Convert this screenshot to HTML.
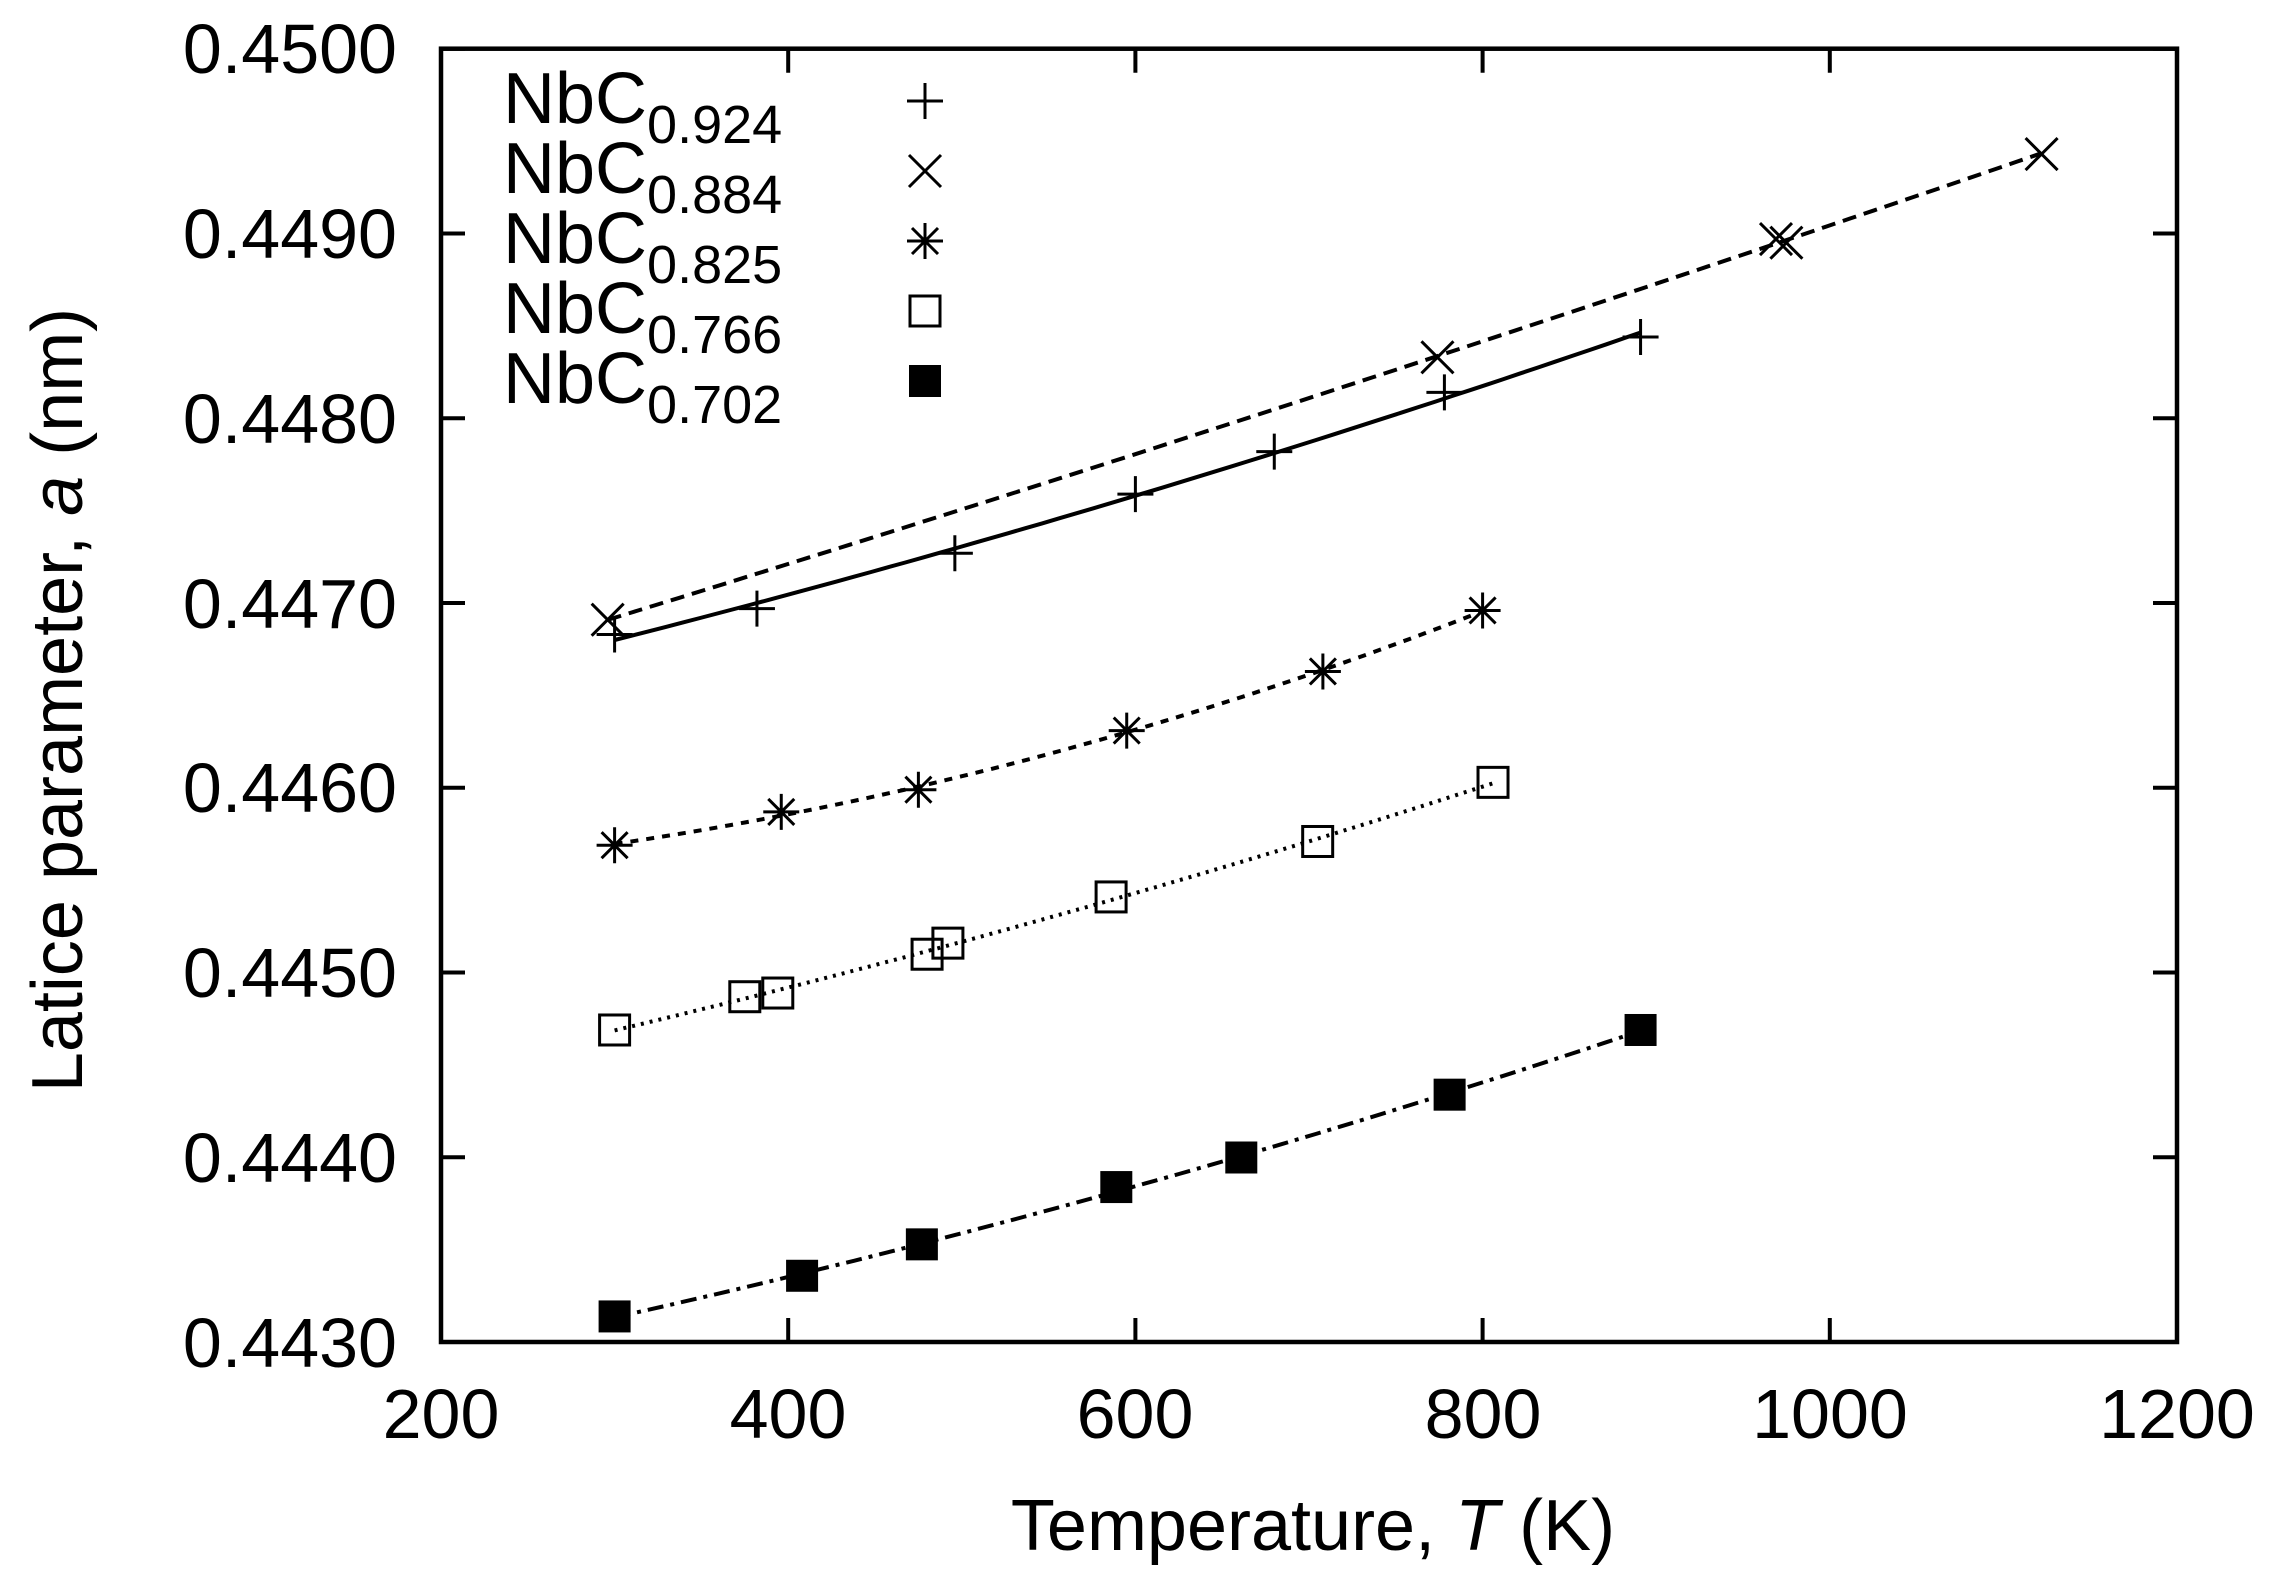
<!DOCTYPE html>
<html><head><meta charset="utf-8"><style>
html,body{margin:0;padding:0;background:#fff}
svg{display:block}
text{font-family:"Liberation Sans",sans-serif;fill:#000}
</style></head><body>
<svg id="s" width="2277" height="1577" viewBox="0 0 2277 1577" xmlns="http://www.w3.org/2000/svg">
<rect x="0" y="0" width="2277" height="1577" fill="#fff"/>
<g id="ticks" stroke="#000" stroke-width="4" fill="none"></g>
<rect x="441" y="48.7" width="1736" height="1293.3" fill="none" stroke="#000" stroke-width="4.5"/>
<g font-size="70" text-anchor="end">
<text x="397" y="73">0.4500</text>
<text x="397" y="258">0.4490</text>
<text x="397" y="443">0.4480</text>
<text x="397" y="628">0.4470</text>
<text x="397" y="812">0.4460</text>
<text x="397" y="997">0.4450</text>
<text x="397" y="1182">0.4440</text>
<text x="397" y="1367">0.4430</text>
</g>
<g font-size="70" text-anchor="middle">
<text x="441" y="1438">200</text>
<text x="788" y="1438">400</text>
<text x="1135" y="1438">600</text>
<text x="1483" y="1438">800</text>
<text x="1830" y="1438">1000</text>
<text x="2177" y="1438">1200</text>
</g>
<text x="1313" y="1550" font-size="72" text-anchor="middle">Temperature, <tspan font-style="italic">T</tspan> (K)</text>
<text transform="translate(82,700) rotate(-90)" font-size="72" text-anchor="middle">Latice parameter, <tspan font-style="italic">a</tspan> (nm)</text>
<g font-size="72">
<text x="503" y="123">NbC<tspan font-size="54" dy="20">0.924</tspan></text>
<text x="503" y="193">NbC<tspan font-size="54" dy="20">0.884</tspan></text>
<text x="503" y="263">NbC<tspan font-size="54" dy="20">0.825</tspan></text>
<text x="503" y="333">NbC<tspan font-size="54" dy="20">0.766</tspan></text>
<text x="503" y="403">NbC<tspan font-size="54" dy="20">0.702</tspan></text>
</g>
<g id="plot" stroke="#000" fill="none" stroke-width="4"></g>
</svg>
<script>
var NS="http://www.w3.org/2000/svg";
function X(T){return 441+(T-200)*1.736;}
function Y(a){return 48.7+(0.4500-a)*184800;}
var tk=document.getElementById('ticks'),d="";
for(var i=0;i<8;i++){var y=48.7+i*184.76;d+="M441 "+y+"h24M2177 "+y+"h-24";}
for(var i=0;i<6;i++){var x=441+i*347.2;d+="M"+x+" 1342v-24M"+x+" 48.7v24";}
var p=document.createElementNS(NS,'path');p.setAttribute('d',d);tk.appendChild(p);
var g=document.getElementById('plot');
function el(t,a){var e=document.createElementNS(NS,t);for(var k in a)e.setAttribute(k,a[k]);g.appendChild(e);return e;}
function mark(type,x,y){
 if(type=='+'){el('path',{d:"M"+(x-18)+" "+y+"h36M"+x+" "+(y-18)+"v36",'stroke-width':3});}
 else if(type=='x'){el('path',{d:"M"+(x-16)+" "+(y-16)+"l32 32M"+(x-16)+" "+(y+16)+"l32 -32",'stroke-width':3});}
 else if(type=='*'){el('path',{d:"M"+(x-18)+" "+y+"h36M"+x+" "+(y-18)+"v36M"+(x-13)+" "+(y-13)+"l26 26M"+(x-13)+" "+(y+13)+"l26 -26",'stroke-width':3});}
 else if(type=='s'){el('rect',{x:x-15,y:y-15,width:30,height:30,'stroke-width':3});}
 else if(type=='S'){el('rect',{x:x-16,y:y-16,width:32,height:32,fill:'#000','stroke-width':0});}
}
function fit(pts){
 var n=pts.length,S=[0,0,0,0,0],R=[0,0,0];
 pts.forEach(function(p){var t=(p[0]-600)/300;var tp=1;for(var k=0;k<5;k++){S[k]+=tp;if(k<3)R[k]+=tp*p[1];tp*=t;}});
 var M=[[S[0],S[1],S[2],R[0]],[S[1],S[2],S[3],R[1]],[S[2],S[3],S[4],R[2]]];
 for(var i=0;i<3;i++){for(var j=i+1;j<3;j++){var f=M[j][i]/M[i][i];for(var k=i;k<4;k++)M[j][k]-=f*M[i][k];}}
 var c=[0,0,0];for(var i=2;i>=0;i--){var s=M[i][3];for(var k=i+1;k<3;k++)s-=M[i][k]*c[k];c[i]=s/M[i][i];}
 return function(T){var t=(T-600)/300;return c[0]+c[1]*t+c[2]*t*t;};
}
var series=[
 {m:'+',dash:'',pts:[[300,0.44683],[382,0.44697],[496,0.44727],[600,0.44759],[680,0.44782],[778,0.44814],[891,0.44844]],r:[300,891],ly:101},
 {m:'x',dash:'14,8',pts:[[296,0.44691],[774,0.44833],[969,0.44897],[975,0.44895],[1122,0.44943]],r:[296,1122],ly:171},
 {m:'*',dash:'8,8',pts:[[300,0.44569],[396,0.44587],[475,0.44599],[595,0.44631],[708,0.44663],[800,0.44696]],r:[300,800],ly:241},
 {m:'s',dash:'3,6',pts:[[300,0.44469],[375,0.44487],[394,0.44489],[480,0.4451],[492,0.44516],[586,0.44541],[705,0.44571],[806,0.44603]],r:[300,806],ly:311},
 {m:'S',dash:'16,7,4,7',pts:[[300,0.44314],[408,0.44336],[477,0.44353],[589,0.44384],[661,0.444],[781,0.44434],[891,0.44469]],r:[300,891],ly:381}
];
series.forEach(function(s){
 var f=fit(s.pts),pp=[];
 for(var T=s.r[0];T<=s.r[1]+0.01;T+=(s.r[1]-s.r[0])/60)pp.push(X(T).toFixed(1)+","+Y(f(T)).toFixed(1));
 var a={points:pp.join(" ")};if(s.dash)a['stroke-dasharray']=s.dash;el('polyline',a);
 s.pts.forEach(function(p){mark(s.m,X(p[0]),Y(p[1]));});
 mark(s.m,925,s.ly);
});
</script>
</body></html>
